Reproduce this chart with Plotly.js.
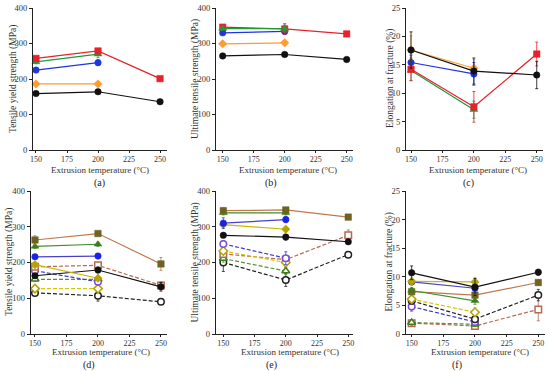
<!DOCTYPE html>
<html><head><meta charset="utf-8">
<script src="https://cdn.plot.ly/plotly-3.0.1.min.js"></script>
<style>html,body{margin:0;padding:0;background:#fff}#chart{width:550px;height:371px}</style>
</head><body><div id="chart"></div>
<script>
// ---------- data ----------
const temps = [150, 200, 250];
const xTicks = [150, 175, 200, 225, 250];
const strengthTicks = [0, 100, 200, 300, 400];
const elongTicks = [0, 5, 10, 15, 20, 25];
const xTitle = "Extrusion temperature (°C)";
const yTitles = ["Tensile yield strength (MPa)", "Ultimate tensile strength (MPa)", "Elongation at fracture (%)"];
const panelLabels = ["(a)", "(b)", "(c)", "(d)", "(e)", "(f)"];

// (a) tensile yield strength
const a_orange = [186, 186, null], a_orange_e = [3, 3, null];
const a_blue = [225, 246, null],   a_blue_e = [5, 8, null];
const a_green = [248, 270, null],  a_green_e = [5, 10, null];
const a_red = [258, 279, 201],     a_red_e = [4, 5, 4];
const a_black = [159, 164, 136],   a_black_e = [3, 3, 3];
// (b) ultimate tensile strength
const b_orange = [299, 302, null], b_orange_e = [3, 5, null];
const b_blue = [330, 334, null],   b_blue_e = [4, 8, null];
const b_green = [342, 342, null],  b_green_e = [4, 10, null];
const b_red = [346, 341, 327],     b_red_e = [4, 15, 3];
const b_black = [265, 269, 255],   b_black_e = [3, 3, 3];
// (c) elongation
const c_orange = [17.6, 14.4, null], c_orange_e = [2.5, 1.5, null];
const c_blue = [15.4, 13.4, null],   c_blue_e = [1.3, 2.0, null];
const c_green = [14.0, 7.1, null],   c_green_e = [1.8, 1.5, null];
const c_red = [14.2, 7.6, 16.9],     c_red_e = [2.0, 2.7, 2.1];
const c_black = [17.6, 13.9, 13.2],  c_black_e = [3.2, 2.3, 2.4];

// (d) tensile yield strength
const d_black_o = [115, 107, 90],   d_black_o_e = [5, 15, 5];
const d_yellow_o = [127, 127, null], d_yellow_o_e = [5, 5, null];
const d_green_o = [153, 153, null],  d_green_o_e = [6, 6, null];
const d_blue_o = [177, 146, null],   d_blue_o_e = [8, 8, null];
const d_brown_o = [188, 192, 136],  d_brown_o_e = [6, 8, 10];
const d_black = [163, 179, 132],    d_black_e = [6, 8, 12];
const d_yellow = [194, 156, null],  d_yellow_e = [6, 6, null];
const d_blue = [216, 218, null],    d_blue_e = [5, 5, null];
const d_green = [245, 251, null],   d_green_e = [6, 6, null];
const d_brown = [263, 281, 196],    d_brown_e = [12, 6, 18];
// (e) ultimate tensile strength
const e_black_o = [200, 151, 222],  e_black_o_e = [25, 18, 8];
const e_green_o = [211, 176, null], e_green_o_e = [10, 10, null];
const e_brown_o = [224, 208, 276],  e_brown_o_e = [8, 10, 15];
const e_yellow_o = [232, 200, null], e_yellow_o_e = [8, 10, null];
const e_blue_o = [252, 212, null],  e_blue_o_e = [8, 18, null];
const e_black = [276, 271, 258],    e_black_e = [5, 8, 5];
const e_yellow = [306, 293, null],  e_yellow_e = [6, 6, null];
const e_blue = [310, 320, null],    e_blue_e = [15, 8, null];
const e_green = [339, 339, null],   e_green_e = [6, 6, null];
const e_brown = [345, 347, 327],    e_brown_e = [8, 6, 4];
// (f) elongation
const f_brown_o = [1.9, 1.4, 4.3],  f_brown_o_e = [0.4, 0.4, 2.0];
const f_green_o = [2.0, 1.7, null], f_green_o_e = [0.5, 0.4, null];
const f_blue_o = [4.8, 2.1, null],  f_blue_o_e = [0.8, 0.5, null];
const f_black_o = [5.8, 2.6, 6.8],  f_black_o_e = [0.6, 0.6, 1.0];
const f_yellow_o = [6.1, 3.8, null], f_yellow_o_e = [0.6, 0.8, null];
const f_brown = [7.4, 6.8, 9.0],    f_brown_e = [0.5, 0.5, 0.5];
const f_green = [7.6, 5.8, null],   f_green_e = [0.5, 0.6, null];
const f_blue = [9.1, 8.0, null],    f_blue_e = [0.5, 0.8, null];
const f_yellow = [9.2, 9.1, null],  f_yellow_e = [0.6, 0.8, null];
const f_black = [10.7, 8.2, 10.8],  f_black_e = [1.2, 1.5, 0.5];

// ---------- styles ----------
const C = {
  red: '#e8212b', green: '#1c9b3a', blue: '#1f35e0', orange: '#ff9b30', black: '#111111',
  brownL: '#c0784e', brownM: '#6f6322', greenL: '#3f8f2a', greenM: '#3c7d18',
  blueL: '#4b3fc8', blueM: '#1a22e6', yelL: '#cdb800', yelM: '#b5a400',
  brownD: '#b46a55', blueD: '#3a3ad0', blueDM: '#7a4ad8', greenD: '#5a8f38', yelD: '#d8c400'
};

function tr(n, y, e, lineC, markC, sym, open, dashed) {
  return {
    type: 'scatter', mode: 'lines+markers', x: temps, y: y,
    xaxis: n === 1 ? 'x' : 'x' + n, yaxis: n === 1 ? 'y' : 'y' + n,
    line: {color: lineC, width: 1.2, dash: dashed ? '4px,2px' : 'solid'},
    marker: {symbol: sym, size: sym === 'triangle-up' ? 7 : 6.5,
      color: open ? '#ffffff' : markC, line: {color: markC, width: open ? 1.5 : 0.5}},
    error_y: {type: 'data', array: e, visible: true, color: lineC, thickness: 0.8, width: 1.5},
    showlegend: false, hoverinfo: 'skip', cliponaxis: false
  };
}

const data = [
  tr(1, a_orange, a_orange_e, C.orange, C.orange, 'diamond'),
  tr(1, a_blue, a_blue_e, C.blue, C.blue, 'circle'),
  tr(1, a_green, a_green_e, C.green, C.green, 'triangle-up'),
  tr(1, a_red, a_red_e, C.red, C.red, 'square'),
  tr(1, a_black, a_black_e, C.black, C.black, 'circle'),
  tr(2, b_orange, b_orange_e, C.orange, C.orange, 'diamond'),
  tr(2, b_blue, b_blue_e, C.blue, C.blue, 'circle'),
  tr(2, b_red, b_red_e, C.red, C.red, 'square'),
  tr(2, b_green, b_green_e, C.green, C.green, 'triangle-up'),
  tr(2, b_black, b_black_e, C.black, C.black, 'circle'),
  tr(3, c_orange, c_orange_e, C.orange, C.orange, 'diamond'),
  tr(3, c_blue, c_blue_e, C.blue, C.blue, 'circle'),
  tr(3, c_green, c_green_e, C.green, C.green, 'triangle-up'),
  tr(3, c_red, c_red_e, C.red, C.red, 'square'),
  tr(3, c_black, c_black_e, C.black, C.black, 'circle'),

  tr(4, d_black_o, d_black_o_e, '#222', '#222', 'circle', true, true),
  tr(4, d_yellow_o, d_yellow_o_e, C.yelD, C.yelM, 'diamond', true, true),
  tr(4, d_green_o, d_green_o_e, C.greenD, C.greenM, 'triangle-up', true, true),
  tr(4, d_blue_o, d_blue_o_e, C.blueD, C.blueDM, 'circle', true, true),
  tr(4, d_brown_o, d_brown_o_e, C.brownD, C.brownD, 'square', true, true),
  tr(4, d_black, d_black_e, C.black, C.black, 'circle'),
  tr(4, d_yellow, d_yellow_e, C.yelL, C.yelM, 'diamond'),
  tr(4, d_blue, d_blue_e, C.blueL, C.blueM, 'circle'),
  tr(4, d_green, d_green_e, C.greenL, C.greenM, 'triangle-up'),
  tr(4, d_brown, d_brown_e, C.brownL, C.brownM, 'square'),

  tr(5, e_black_o, e_black_o_e, '#222', '#222', 'circle', true, true),
  tr(5, e_green_o, e_green_o_e, C.greenD, C.greenM, 'triangle-up', true, true),
  tr(5, e_brown_o, e_brown_o_e, C.brownD, C.brownD, 'square', true, true),
  tr(5, e_yellow_o, e_yellow_o_e, C.yelD, C.yelM, 'diamond', true, true),
  tr(5, e_blue_o, e_blue_o_e, C.blueD, C.blueDM, 'circle', true, true),
  tr(5, e_black, e_black_e, C.black, C.black, 'circle'),
  tr(5, e_yellow, e_yellow_e, C.yelL, C.yelM, 'diamond'),
  tr(5, e_blue, e_blue_e, C.blueL, C.blueM, 'circle'),
  tr(5, e_green, e_green_e, C.greenL, C.greenM, 'triangle-up'),
  tr(5, e_brown, e_brown_e, C.brownL, C.brownM, 'square'),

  tr(6, f_brown_o, f_brown_o_e, C.brownD, C.brownD, 'square', true, true),
  tr(6, f_green_o, f_green_o_e, C.greenD, C.greenM, 'triangle-up', true, true),
  tr(6, f_blue_o, f_blue_o_e, C.blueD, C.blueDM, 'circle', true, true),
  tr(6, f_black_o, f_black_o_e, '#222', '#222', 'circle', true, true),
  tr(6, f_yellow_o, f_yellow_o_e, C.yelD, C.yelM, 'diamond', true, true),
  tr(6, f_brown, f_brown_e, C.brownL, C.brownM, 'square'),
  tr(6, f_green, f_green_e, C.greenL, C.greenM, 'triangle-up'),
  tr(6, f_blue, f_blue_e, C.blueL, C.blueM, 'circle'),
  tr(6, f_yellow, f_yellow_e, C.yelL, C.yelM, 'diamond'),
  tr(6, f_black, f_black_e, C.black, C.black, 'circle')
];

// ---------- layout ----------
const W = 550, H = 371;
const FONT = 'Liberation Serif, DejaVu Serif, serif';
const px = v => v / W, py = v => 1 - v / H;

const panels = [
  {xd: [33, 167], xr: [147.6, 255.6], yd: [150, 8], yr: [0, 400], yt: strengthTicks, ti: 0, xt: [100, 169.5], lab: [99, 182.5], ytx: 13},
  {xd: [216, 353], xr: [144.6, 255.1], yd: [150, 8], yr: [0, 400], yt: strengthTicks, ti: 1, xt: [288, 169.5], lab: [271, 182.5], ytx: 195},
  {xd: [406, 543], xr: [146.0, 255.0], yd: [150, 8], yr: [0, 25], yt: elongTicks, ti: 2, xt: [478, 169.5], lab: [468, 182.5], ytx: 390},
  {xd: [30.7, 167], xr: [146.6, 254.8], yd: [334, 191], yr: [0, 400], yt: strengthTicks, ti: 0, xt: [101, 351.5], lab: [89, 364.5], ytx: 9.5},
  {xd: [215.7, 353], xr: [143.9, 253.8], yd: [334, 191], yr: [0, 400], yt: strengthTicks, ti: 1, xt: [290, 351.5], lab: [271, 364.5], ytx: 195},
  {xd: [405.7, 545], xr: [145.3, 255.3], yd: [334, 191], yr: [0, 25], yt: elongTicks, ti: 2, xt: [480, 351.5], lab: [457, 364.5], ytx: 389}
];

const layout = {
  width: W, height: H, margin: {l: 0, r: 0, t: 0, b: 0},
  paper_bgcolor: '#fff', plot_bgcolor: 'rgba(0,0,0,0)',
  showlegend: false, font: {family: FONT, size: 9, color: '#222'},
  annotations: []
};

panels.forEach((p, i) => {
  const n = i + 1, sfx = n === 1 ? '' : n;
  layout['xaxis' + sfx] = {
    domain: [px(p.xd[0]), px(p.xd[1])], range: p.xr, anchor: 'y' + sfx,
    showgrid: false, zeroline: false, showline: true, linecolor: '#222', linewidth: 1,
    ticks: 'outside', ticklen: 2, tickwidth: 1, tickcolor: '#222', ticklabelstandoff: -1,
    tickmode: 'array', tickvals: xTicks, tickfont: {family: FONT, size: 8, color: '#333'},
    fixedrange: true
  };
  layout['yaxis' + sfx] = {
    domain: [py(p.yd[0]), py(p.yd[1])], range: p.yr, anchor: 'x' + sfx,
    showgrid: false, zeroline: false, showline: true, linecolor: '#222', linewidth: 1,
    ticks: 'outside', ticklen: 3, tickwidth: 1, tickcolor: '#222',
    tickmode: 'array', tickvals: p.yt, tickfont: {family: FONT, size: 8.5, color: '#333'},
    fixedrange: true
  };
  layout.annotations.push({
    xref: 'paper', yref: 'paper', x: px(p.xt[0]), y: py(p.xt[1]), text: xTitle,
    showarrow: false, xanchor: 'center', yanchor: 'middle', font: {family: FONT, size: 9, color: '#333'}
  });
  layout.annotations.push({
    xref: 'paper', yref: 'paper', x: px(p.ytx), y: py((p.yd[0] + p.yd[1]) / 2), text: yTitles[p.ti],
    textangle: -90, showarrow: false, xanchor: 'center', yanchor: 'middle', font: {family: FONT, size: 9.5, color: '#333'}
  });
  layout.annotations.push({
    xref: 'paper', yref: 'paper', x: px(p.lab[0]), y: py(p.lab[1]), text: panelLabels[i],
    showarrow: false, xanchor: 'center', yanchor: 'middle', font: {family: FONT, size: 10, color: '#222'}
  });
});

Plotly.newPlot('chart', data, layout, {staticPlot: true, displayModeBar: false});
</script>
</body></html>
